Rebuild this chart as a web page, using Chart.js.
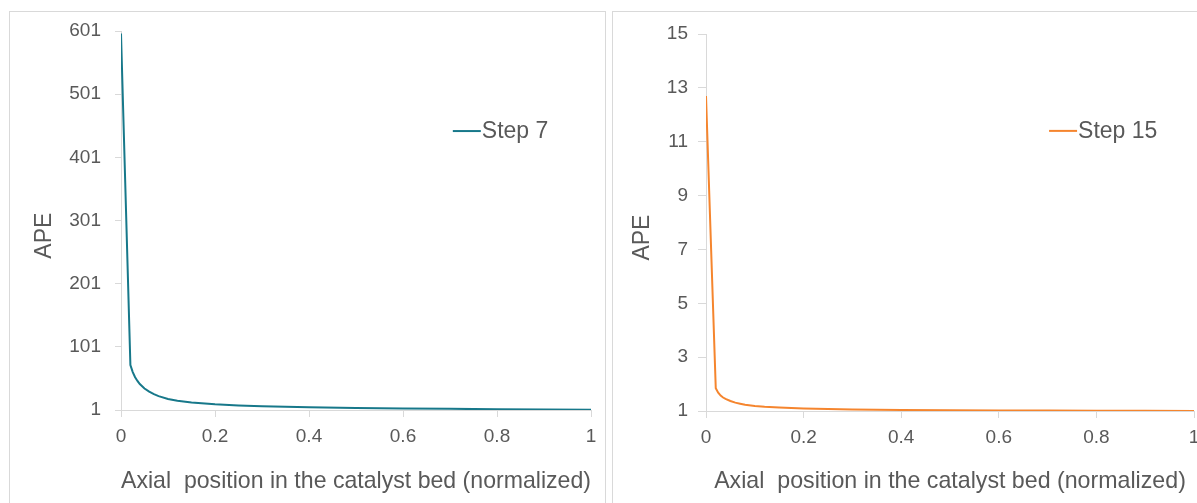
<!DOCTYPE html>
<html>
<head>
<meta charset="utf-8">
<script src="https://cdn.jsdelivr.net/npm/chart.js@4/dist/chart.umd.min.js"></script>
<style>
  html, body { margin:0; padding:0; background:#fff; overflow:hidden; }
  body { width:1197px; height:503px; position:relative; }
  .panel { position:absolute; border:1px solid #d9d9d9; box-sizing:border-box; }
  .plot { position:absolute; top:0; }
</style>
</head>
<body>
<div class="panel" style="left:9px; top:11px; width:597px; height:520px;"></div>
<div class="panel" style="left:612px; top:11px; width:620px; height:520px;"></div>
<div class="plot" style="left:0; width:605px; height:503px;"><canvas id="step7Chart" width="605" height="503"></canvas></div>
<div class="plot" style="left:605px; width:625px; height:503px;"><canvas id="step15Chart" width="625" height="503"></canvas></div>
<script>
// axial positions (normalized bed length) shared by both profiles
const positions = [0, 0.02, 0.025, 0.03, 0.035, 0.04, 0.05, 0.06, 0.07, 0.08, 0.1, 0.12, 0.15, 0.2, 0.25, 0.3, 0.4, 0.5, 0.6, 0.7, 0.8, 0.9, 1];
const apeStep7 = [597, 72, 61, 53, 47, 42, 35, 30, 26, 23, 18.5, 15.5, 13, 10, 8.3, 7, 5.3, 4.2, 3.4, 2.8, 2.2, 1.7, 1.3];
const apeStep15 = [12.7, 1.85, 1.68, 1.57, 1.5, 1.45, 1.37, 1.31, 1.27, 1.23, 1.19, 1.16, 1.13, 1.09, 1.07, 1.06, 1.04, 1.03, 1.02, 1.015, 1.01, 1.005, 1.0];

const xTickLabels = ['0', '0.2', '0.4', '0.6', '0.8', '1'];
const yTicksStep7 = ['1', '101', '201', '301', '401', '501', '601'];
const yTicksStep15 = ['1', '3', '5', '7', '9', '11', '13', '15'];

const FONT = "'Liberation Sans', Arial, sans-serif";
const TXT = '#595959';
const AXIS = '#d9d9d9';

// y title and legend drawn relative to the plot area
const innerLegend = {
  id: 'innerLegend',
  afterDraw(chart, args, opts) {
    const ca = chart.chartArea, ctx = chart.ctx;
    const ds = chart.data.datasets[0];
    const x = ca.left + opts.fx * (ca.right - ca.left);
    const y = ca.top + opts.fy * (ca.bottom - ca.top);
    ctx.save();
    ctx.strokeStyle = ds.borderColor;
    ctx.lineWidth = 2;
    ctx.beginPath(); ctx.moveTo(x, y); ctx.lineTo(x + 28, y); ctx.stroke();
    ctx.fillStyle = TXT;
    ctx.font = '23px ' + FONT;
    ctx.textBaseline = 'middle';
    ctx.fillText(ds.label, x + 29, y + 1);
    // APE axis title, sitting a little below the middle of the axis
    ctx.translate(opts.tx, ca.top + 0.54 * (ca.bottom - ca.top));
    ctx.rotate(-Math.PI / 2);
    ctx.textAlign = 'center';
    ctx.fillText('APE', 0, 0);
    ctx.restore();
  }
};

function makeChart(id, label, values, color, yMin, yMax, yStep, yLabels, lay) {
  const pts = positions.map((p, i) => ({x: p, y: values[i]}));
  return new Chart(document.getElementById(id), {
    type: 'line',
    data: { datasets: [{ label, data: pts, borderColor: color, borderWidth: 2, pointRadius: 0,
      fill: false, tension: 0 }] },
    options: {
      responsive: false, animation: false,
      layout: { padding: { left: 0, top: lay.top, right: lay.right, bottom: 0 } },
      plugins: { legend: { display: false }, tooltip: { enabled: false },
        innerLegend: { fx: lay.lx, fy: lay.ly, tx: lay.tx } },
      scales: {
        x: {
          type: 'linear', min: 0, max: 1,
          ticks: { stepSize: 0.2, color: TXT, font: { family: FONT, size: 19 }, padding: 8, maxRotation: 0,
            callback: (v, i) => xTickLabels[i] },
          grid: { drawOnChartArea: false, color: AXIS, tickLength: 7 },
          border: { color: AXIS },
          title: { display: true, text: 'Axial  position in the catalyst bed (normalized)', color: TXT,
            font: { family: FONT, size: 23.2 }, padding: { top: 0, bottom: 7 } },
          afterFit: s => { s.height = lay.xh; }
        },
        y: {
          min: yMin, max: yMax,
          ticks: { stepSize: yStep, color: TXT, font: { family: FONT, size: 19 }, padding: lay.tp,
            callback: (v, i) => yLabels[i] },
          grid: { drawOnChartArea: false, color: AXIS, tickLength: lay.tl },
          border: { color: AXIS },
          afterFit: s => { s.width = lay.yw; }
        }
      }
    },
    plugins: [innerLegend]
  });
}

makeChart('step7Chart', 'Step 7', apeStep7, '#17788a', 1, 601, 100, yTicksStep7,
  { top: 31, right: 14, xh: 93, yw: 121, tp: 14, tl: 6, tx: 45, lx: 0.706, ly: 0.264 });
makeChart('step15Chart', 'Step 15', apeStep15, '#f5852e', 1, 15, 2, yTicksStep15,
  { top: 34, right: 36, xh: 92, yw: 101, tp: 10, tl: 8, tx: 38, lx: 0.703, ly: 0.257 });
</script>
</body>
</html>
